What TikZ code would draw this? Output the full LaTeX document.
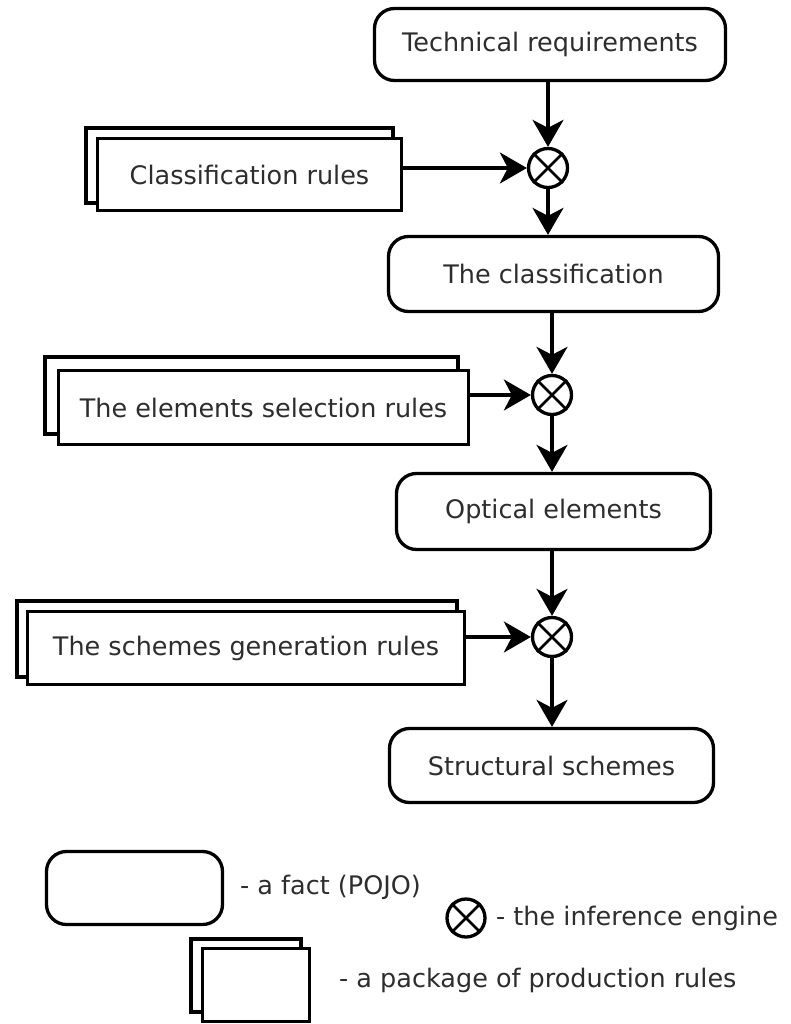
\documentclass[tikz,border=0pt]{standalone}
\usepackage{fontspec}
\setmainfont{DejaVu Sans}
\usetikzlibrary{arrows.meta}
\definecolor{txt}{RGB}{45,45,45}
\begin{document}
\begin{tikzpicture}[x=1pt,y=-1pt,
  lw/.style={line width=3.3pt},
  lbl/.style={text=txt, font=\fontsize{25.5}{30}\selectfont},
  fact/.style={draw, lw, rounded corners=20pt, fill=white, lbl, inner sep=0pt},
  rules/.style={draw, lw, fill=white, lbl, inner sep=0pt},
  engine/.style={draw, lw, circle, minimum size=#1, inner sep=0pt},
  engine/.default=39pt,
  cross/.style={line width=2.8pt},
  flow/.style={lw, -{Stealth[length=27pt,width=31pt,inset=8pt]}},
  legendtext/.style={lbl, anchor=west, inner sep=0pt},
]
\useasboundingbox (0,0) rectangle (790,1024);

% facts
\node[fact, minimum width=351pt, minimum height=72pt] (tech) at (550,44.5) {Technical requirements};
\node[fact, minimum width=330pt, minimum height=75pt] (cls) at (553.5,274) {The classification};
\node[fact, minimum width=314pt, minimum height=76pt] (opt) at (553.5,511.5) {Optical elements};
\node[fact, minimum width=324pt, minimum height=74pt] (str) at (551.5,765.5) {Structural schemes};

% inference engines
\node[engine] (e1) at (548,168) {};
\node[engine] (e2) at (552,395) {};
\node[engine] (e3) at (552,637) {};

% rule packages (back copies first)
\draw[lw] (86,128) rectangle (393,203);
\node[rules, minimum width=304pt, minimum height=72pt] (r1) at (249.5,174.5) {Classification rules};
\draw[lw] (45,357) rectangle (458,434);
\node[rules, minimum width=410pt, minimum height=74pt] (r2) at (263.5,407.5) {The elements selection rules};
\draw[lw] (17,601) rectangle (457,677);
\node[rules, minimum width=437pt, minimum height=73pt] (r3) at (246,648) {The schemes generation rules};

% crosses inside engines
\foreach \e in {e1,e2,e3}{
  \draw[cross] (\e.north east) -- (\e.south west) (\e.north west) -- (\e.south east);
}

% connectors
\draw[flow] (tech.south -| e1) -- (e1.north);
\draw[flow] (e1.south) -- (cls.north -| e1);
\draw[flow] (cls.south -| e2) -- (e2.north);
\draw[flow] (e2.south) -- (opt.north -| e2);
\draw[flow] (opt.south -| e3) -- (e3.north);
\draw[flow] (e3.south) -- (str.north -| e3);
\draw[flow] (r1.east |- e1) -- (e1.west);
\draw[flow] (r2.east |- e2) -- (e2.west);
\draw[flow] (r3.east |- e3) -- (e3.west);

% legend
\node[fact, minimum width=176pt, minimum height=73pt] (lfact) at (134.5,888) {};
\node[legendtext] (tfact) at (240,887) {- a fact (POJO)};
\node[engine=38pt] (leng) at (466,918) {};
\draw[cross] (leng.north east) -- (leng.south west) (leng.north west) -- (leng.south east);
\node[legendtext] (teng) at (496,918) {- the inference engine};
\draw[lw] (191,939) rectangle (301,1012);
\node[rules, minimum width=107pt, minimum height=73pt] (lpkg) at (256,985) {};
\node[legendtext] (tpkg) at (339,980) {- a package of production rules};
\end{tikzpicture}
\end{document}
